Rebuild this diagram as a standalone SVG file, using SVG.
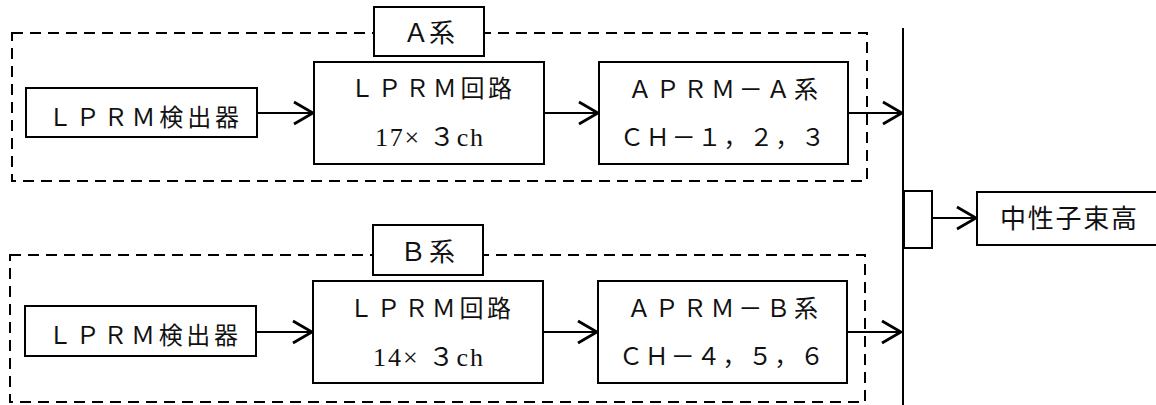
<svg xmlns="http://www.w3.org/2000/svg" width="1156" height="405" viewBox="0 0 1156 405">
<style>
.box{fill:#fff;stroke:#000;stroke-width:2}
.dash{fill:none;stroke:#000;stroke-width:2;stroke-dasharray:11 7}
.t{font-family:"Liberation Serif","Noto Sans CJK JP",serif;font-size:24px;fill:#111}
.big{font-size:26px}
.c{stroke:#000;stroke-width:2;fill:none}
</style>
<defs>
<marker id="ah" viewBox="0 0 22 26" refX="21" refY="13" markerWidth="22" markerHeight="26" markerUnits="userSpaceOnUse" orient="auto">
<path d="M2,2 L21,13 L2,24" fill="none" stroke="#000" stroke-width="2.8" stroke-linejoin="miter"/>
</marker>
</defs>
<rect width="1156" height="405" fill="#fff"/>

<g id="groupA">
<rect class="dash" x="12" y="33" width="855" height="148"/>
<rect class="box" x="374" y="7" width="110" height="49"/>
<text class="t big" x="403" y="42" textLength="52" lengthAdjust="spacing">Ａ系</text>
</g>
<g id="groupB">
<rect class="dash" x="10" y="255" width="855" height="147"/>
<rect class="box" x="373" y="225" width="110" height="50"/>
<text class="t big" x="400" y="261" textLength="55" lengthAdjust="spacing">Ｂ系</text>
</g>

<g id="connectors">
<line class="c" x1="257" y1="113" x2="313" y2="113" marker-end="url(#ah)"/>
<line class="c" x1="544" y1="113" x2="598" y2="113" marker-end="url(#ah)"/>
<line class="c" x1="848" y1="113" x2="902" y2="113" marker-end="url(#ah)"/>
<line class="c" x1="256" y1="332" x2="312" y2="332" marker-end="url(#ah)"/>
<line class="c" x1="543" y1="332" x2="597" y2="332" marker-end="url(#ah)"/>
<line class="c" x1="847" y1="332" x2="901" y2="332" marker-end="url(#ah)"/>
<line class="c" x1="903" y1="28" x2="903" y2="405"/>
<line class="c" x1="932" y1="218" x2="976" y2="218" marker-end="url(#ah)"/>
</g>

<g id="detA">
<rect class="box" x="26" y="88" width="231" height="49"/>
<text class="t" x="48" y="126" textLength="191" lengthAdjust="spacing">ＬＰＲＭ検出器</text>
</g>
<g id="lprmA">
<rect class="box" x="314" y="62" width="230" height="102"/>
<text class="t" x="350" y="97" textLength="162" lengthAdjust="spacing">ＬＰＲＭ回路</text>
<text class="t big" x="375" y="146" textLength="108" lengthAdjust="spacing">17× ３ch</text>
</g>
<g id="aprmA">
<rect class="box" x="599" y="62" width="249" height="102"/>
<text class="t" x="628" y="98" textLength="190" lengthAdjust="spacing">ＡＰＲＭ－Ａ系</text>
<text class="t" x="620" y="146" textLength="205" lengthAdjust="spacing">ＣＨ－１，２，３</text>
</g>

<g id="detB">
<rect class="box" x="25" y="306" width="231" height="50"/>
<text class="t" x="48" y="344" textLength="190" lengthAdjust="spacing">ＬＰＲＭ検出器</text>
</g>
<g id="lprmB">
<rect class="box" x="313" y="281" width="230" height="102"/>
<text class="t" x="349" y="317" textLength="162" lengthAdjust="spacing">ＬＰＲＭ回路</text>
<text class="t big" x="373" y="366" textLength="110" lengthAdjust="spacing">14× ３ch</text>
</g>
<g id="aprmB">
<rect class="box" x="598" y="281" width="249" height="102"/>
<text class="t" x="627" y="317" textLength="191" lengthAdjust="spacing">ＡＰＲＭ－Ｂ系</text>
<text class="t" x="619" y="365" textLength="205" lengthAdjust="spacing">ＣＨ－４，５，６</text>
</g>

<g id="junction">
<rect class="box" x="904" y="191" width="28" height="57"/>
</g>
<g id="output">
<rect class="box" x="977" y="192" width="185" height="53"/>
<text class="t big" x="1000" y="228" textLength="137" lengthAdjust="spacing">中性子束高</text>
</g>
</svg>
